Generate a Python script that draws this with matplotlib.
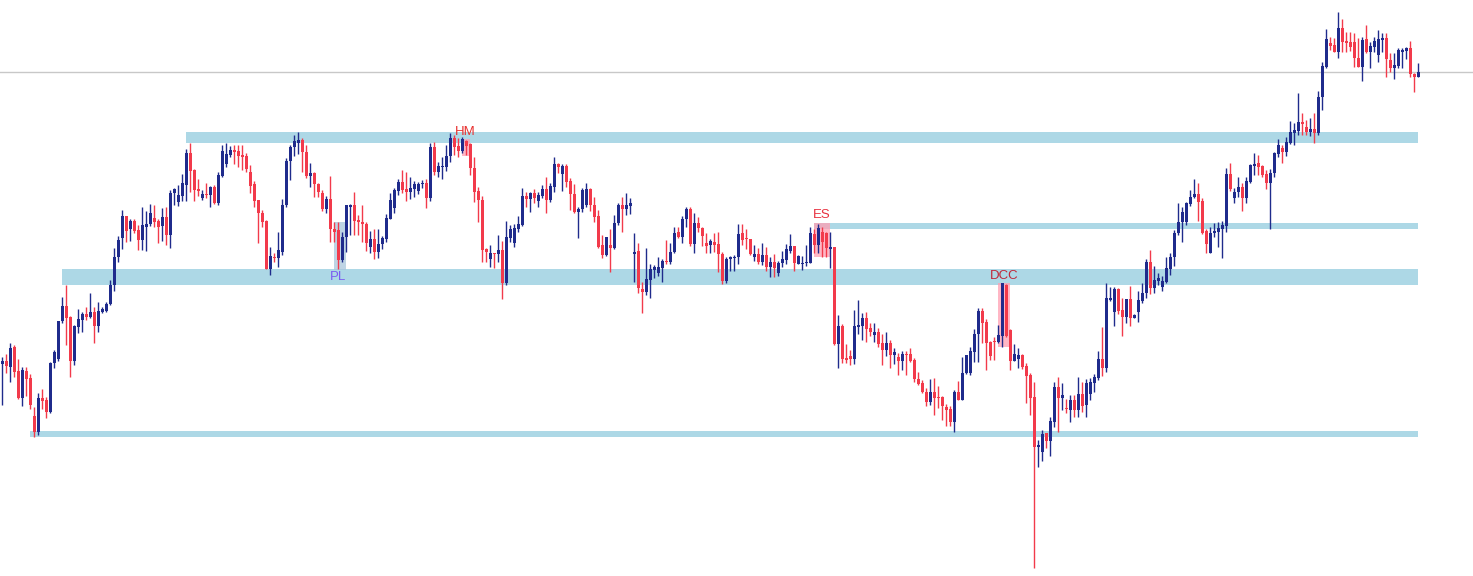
import matplotlib

matplotlib.use("Agg")
import matplotlib.pyplot as plt
from matplotlib.patches import Rectangle

# Price levels read off the chart as screen rows (bigger number = lower price),
# so the y axis is flipped below. One entry per candle.
opens = [
    364, 361, 366.7, 347, 370.7, 397.7, 370.7, 378, 416, 431.7,
    398, 400, 412, 363.3, 359, 321.3, 306, 316.7, 360.7, 326.7,
    320, 314, 316.7, 311.7, 325.7, 311.7, 311, 304, 285, 257.3,
    238.3, 216, 229.3, 220.7, 230, 240, 226.7, 224, 218.3, 220.7,
    225.7, 217.3, 235, 193.3, 201.7, 195.7, 185, 153.3, 170, 189.3,
    198, 194, 195.3, 187, 202.7, 175.7, 164.3, 155, 150, 151,
    155, 156, 171.7, 184.3, 199.7, 212.7, 221, 269, 256.7, 257.7,
    251.7, 205, 161, 146.7, 143.3, 140, 151.7, 175.7, 173.3, 184.3,
    193.3, 209.3, 199.3, 229, 230, 260, 236.7, 206.7, 205, 220,
    222, 224.3, 246.7, 239, 251.7, 244, 239, 218.7, 208.3, 190.7,
    182.3, 189.3, 191.7, 189, 190.7, 184.3, 183.3, 197.7, 147.3, 171.7,
    167.3, 166.7, 156, 138.3, 146, 150.7, 140.7, 144, 168.3, 191,
    200, 249, 259.3, 253.3, 254.3, 250, 282.7, 238.3, 242.7, 229,
    225, 196, 199.3, 192.7, 200.7, 195.7, 189, 200, 186.7, 164,
    174.3, 166, 181, 194, 211.7, 209.3, 205, 189, 205, 216,
    245, 255, 245, 247.7, 223.3, 205, 209.3, 205.7, 254.3, 251,
    289, 291.7, 280, 270, 272.7, 267.7, 261, 261.7, 252.3, 232.3,
    237.3, 219.3, 209, 244, 223.3, 228.3, 242.7, 245, 241.7, 244,
    254.3, 281, 259.3, 257.7, 257.3, 232.7, 238.3, 239, 256.7, 254.3,
    262.3, 255, 266.7, 261.7, 273.3, 263.3, 260, 251, 246, 264,
    264.3, 263.3, 262.7, 234, 245, 232.3, 233.3, 249, 247.3, 344.3,
    326, 357.7, 356, 359, 326.7, 325.7, 317.7, 327.7, 335, 331.7,
    342.7, 350, 342.7, 355, 356.7, 360.7, 354, 354, 360, 379,
    383.3, 391.7, 401.7, 392.3, 396.7, 397.3, 406.7, 409, 421.7, 392.3,
    400, 373.3, 373.3, 351.7, 334, 310.7, 321.7, 341.7, 341, 341.7,
    335.7, 285, 330, 360.7, 359.3, 355, 366, 375, 396.7, 446.7,
    451.7, 433.3, 441, 421.7, 386.7, 398.3, 408.3, 410, 400, 410,
    394.3, 405, 394.3, 382.7, 378.3, 359.3, 367.7, 300, 312.3, 289.3,
    310, 316.7, 299.3, 317.7, 311.7, 300.7, 293.3, 262.3, 288.3, 280.7,
    287.3, 281.7, 269.3, 257.3, 233.3, 222.3, 222.3, 204, 197.3, 194,
    201, 231, 252.7, 233.3, 232.3, 229, 225.7, 174, 197.7, 192.3,
    186.7, 197.7, 181.7, 165.7, 163.3, 166, 174, 183.3, 172.7, 154,
    147.7, 151.7, 142.7, 132.7, 130.7, 121.7, 126.7, 131.7, 129, 133.3,
    96.7, 66.7, 43.3, 45, 51.7, 28.3, 41, 42.3, 42.3, 57.7,
    66.7, 39, 52.3, 46.7, 55, 39.7, 37.7, 60, 67.7, 66,
    52.3, 50.7, 48.3, 74, 76.7,
]
closes = [
    360.7, 365.7, 348.3, 372.3, 397.7, 370, 379, 404.7, 431.7, 398,
    400.7, 412, 362.7, 351.7, 321, 306, 317.7, 360.7, 326, 319.3,
    314, 316.7, 312, 325.7, 311, 309, 304, 285, 257.3, 240,
    216, 230.7, 221, 230.7, 240, 225, 224, 213, 221.7, 226.7,
    217.3, 235, 193.3, 189.3, 195, 183.3, 153.3, 170.7, 190, 191,
    194, 195.3, 187, 202.7, 175, 151, 154, 150, 151.7, 155.7,
    156.7, 169.3, 186, 201, 213.3, 222.3, 269, 256, 257.7, 250,
    205, 161, 146.7, 141, 140, 151.7, 175.7, 173.3, 184.3, 191.7,
    209.3, 199.3, 229, 231.7, 260, 236.7, 205, 205, 220.7, 221.7,
    224.3, 243.3, 239, 251.7, 244, 238.3, 218, 200, 190, 182.3,
    190, 191.7, 188.3, 184.3, 184.3, 183, 197.7, 147.3, 171.7, 166,
    166, 156, 138.3, 146.7, 150.7, 139.3, 145.7, 168.3, 191.7, 200,
    250, 252.3, 253.3, 254.3, 250, 282.7, 237.3, 229, 228.3, 224,
    196, 199.3, 192.7, 197.7, 195, 189, 200, 186, 164, 166.7,
    166, 181.7, 194.3, 211.7, 209, 190, 189, 205, 216.7, 246.7,
    255, 236.7, 247.7, 222.7, 205, 209.3, 205, 203.3, 251.7, 288.3,
    292.3, 279.3, 269, 266.7, 267.3, 261, 262.3, 251.7, 232.7, 236.7,
    219, 209, 244, 222.7, 228.3, 236, 246, 241, 245, 254.3,
    281, 259, 257.3, 256.7, 234, 240, 239.3, 254.3, 254, 262.3,
    255, 266.7, 261.7, 267.7, 262.7, 259, 249, 246, 263.3, 256,
    262.7, 261.7, 232.7, 245, 228.3, 241.7, 248.3, 246.7, 344.3, 326,
    359, 360, 359, 326, 325, 317.7, 329, 332.3, 331.7, 344,
    350, 342.7, 355, 351.7, 360.7, 354, 355, 361, 379, 384,
    391.7, 401.7, 392.3, 397.7, 397.3, 406, 410, 421.7, 392.3, 400,
    373.3, 355, 351, 334, 310.7, 322.7, 342.7, 355.7, 341.7, 335,
    283.3, 335.7, 360.7, 354.3, 355, 366.7, 375.7, 397.7, 446.7, 445,
    434, 441, 421, 386.7, 398.3, 395, 409.3, 400, 410, 394.3,
    405.5, 383.3, 382.3, 377.3, 359.3, 367.7, 298.3, 298.3, 289.3, 310.7,
    316.7, 299.3, 317.7, 315, 300, 292.7, 262.3, 288.3, 280, 277.7,
    281, 268.3, 257.3, 232.7, 221.7, 211.7, 203.3, 197.3, 194, 202.3,
    232.7, 244, 233.3, 231, 228.3, 225, 174, 189, 191.7, 186.7,
    197.7, 180.7, 165, 164, 166.7, 175, 183.3, 172.7, 153.3, 145,
    151.7, 141.7, 132.3, 130, 121.7, 124, 131.7, 129, 133.3, 96.7,
    66, 39, 45.7, 51.7, 28.3, 41.7, 42.7, 46.7, 58.3, 66.7,
    40, 51.7, 45.7, 41, 39, 37.7, 59.3, 67.7, 65, 50,
    50, 48.3, 74.3, 76.7, 71.7,
]
highs = [
    356.7, 354, 343.3, 345, 359, 366.7, 367.3, 374.3, 406.7, 393.3,
    389.3, 396.7, 361.7, 350, 321, 296.7, 285, 315.7, 325, 309.3,
    311.7, 306.7, 293.3, 306.7, 301.7, 306.7, 302.3, 280, 248, 236,
    210, 216, 219.3, 219.3, 225, 207.3, 211, 204, 205, 219.3,
    208.3, 207.3, 190, 188.3, 185, 174, 149, 142.7, 169.3, 179.3,
    190, 183.3, 185.7, 185, 171.7, 145, 142.7, 146, 145, 145,
    145, 153.3, 165, 181, 199.7, 210, 220, 246.7, 252.7, 232.3,
    199, 158.3, 145, 135, 131.7, 137.7, 145, 163.3, 171.7, 183.3,
    190, 196, 176, 221.7, 221.7, 232.3, 205, 204.3, 191.7, 215,
    205, 222.3, 231, 229, 229, 236, 214.3, 193.3, 188.3, 179.3,
    170, 172.3, 177.3, 181, 181.7, 180, 179.3, 143.3, 142.3, 162.3,
    156.7, 145, 132.7, 135, 138.3, 136.7, 140, 143.3, 157.3, 186.7,
    196, 248.3, 245, 252.7, 235, 240.7, 221, 225, 224, 216,
    188.3, 191.7, 191.7, 189.3, 191.7, 185, 176.7, 183.3, 157.3, 162.7,
    164, 164, 177.7, 184.3, 207.3, 187.7, 183.3, 188.3, 196.7, 210,
    235, 236.7, 229.3, 215, 203.3, 196.7, 192.7, 198.3, 232.7, 243.3,
    281.7, 248.3, 264, 265, 256.7, 259.3, 240, 243.3, 226.7, 226.7,
    216, 207.3, 207.3, 213.3, 216.7, 227.3, 232.7, 239.3, 232.7, 231.7,
    251.7, 257.3, 255.7, 255, 224, 224.3, 229.3, 239, 245, 247.7,
    242.7, 246.7, 256.7, 254.3, 261, 251, 244.3, 234, 245.7, 255,
    256, 245, 227.3, 229, 224.3, 227.3, 231.7, 231.7, 246.7, 315,
    324.3, 344, 350, 310, 300, 312.7, 311.7, 322.7, 322.7, 328.3,
    334, 331.7, 340, 348.3, 353.3, 351, 351, 348.3, 357.7, 371.7,
    380, 388.3, 379.3, 378.3, 386, 396, 404, 406, 390, 381,
    357.3, 355, 347.3, 329.3, 308.3, 307.7, 319.3, 340.7, 336.7, 325,
    282.7, 284, 329.3, 344, 348.3, 354.3, 363.3, 373.3, 381.7, 440,
    430, 432.7, 416.7, 381.7, 377.3, 383.3, 399.3, 395, 395, 377.3,
    381.7, 379.3, 378.3, 374, 351, 326.7, 283.3, 286.7, 286.7, 288.3,
    297.7, 299.3, 286, 314, 290.7, 283.3, 259.3, 250, 266, 273.3,
    276, 257.3, 253.3, 230, 203.3, 206.7, 201.7, 190, 179.3, 183.3,
    198, 229.3, 227.3, 223.3, 221.7, 220.7, 167.7, 162.7, 188.3, 176.7,
    183.3, 176.7, 164, 153.3, 155, 165, 170, 169.3, 151.7, 139.3,
    145, 137.3, 121, 123.3, 93.3, 112.7, 120, 118.3, 113.3, 90.7,
    61.7, 29, 36.7, 38.3, 11.7, 19, 31.7, 31.7, 33.3, 38.3,
    36.7, 25, 42.3, 36.7, 30, 33.3, 33.3, 53.3, 52.7, 48.3,
    48.3, 47.3, 41, 73.3, 63.3,
]
lows = [
    405, 372.7, 381.7, 377.3, 399, 405.7, 395.7, 409.3, 436.7, 435,
    409.3, 417.7, 412.7, 368.3, 361, 322.7, 345, 376.7, 365, 333.3,
    331.7, 320, 318.3, 343.3, 332.3, 313.3, 312.3, 305, 290.7, 262,
    249.3, 241.7, 240.7, 233.3, 250, 250, 250.7, 226, 226.7, 242.7,
    240.7, 245, 248.3, 205, 206, 200.7, 200.7, 191.7, 201, 195.7,
    200, 198.3, 206.7, 204, 205, 176.7, 166.7, 156.7, 164.3, 167.3,
    170, 171.7, 193.3, 206.7, 243.3, 226.7, 269, 275, 261.7, 266.7,
    255, 206.7, 180, 155.7, 154.3, 171.7, 178.3, 186.7, 196.7, 196.7,
    210.7, 213.3, 242.3, 241.7, 269.3, 261.7, 251.7, 235, 235, 235,
    242, 250.7, 253.3, 259.3, 258.3, 249.3, 241.7, 219, 213.3, 195,
    192.7, 201, 199.3, 196.7, 194, 188.3, 207.7, 200.7, 175, 176.7,
    179.3, 170.7, 161.7, 155, 157.3, 153.3, 155, 175, 201.7, 221.7,
    261.7, 262.3, 267.3, 268.3, 261.7, 299.3, 285, 241.7, 246.7, 231.7,
    226, 206.7, 211.7, 203.3, 207.3, 198.3, 212.7, 202.3, 191.7, 173.3,
    190.7, 187.3, 210, 213.3, 237.7, 211.7, 207.3, 211, 222.3, 248.3,
    258.3, 255.7, 271.7, 249.3, 225, 231.7, 215, 214, 281.7, 292.7,
    312.7, 295, 298.3, 278.3, 276, 281.7, 264, 264, 253.3, 238.3,
    243.3, 226.7, 246, 252.7, 231.7, 246, 252.7, 252.7, 251.7, 271.7,
    284.3, 282.7, 270.7, 270.7, 264.3, 245, 249, 255, 261, 264.3,
    265, 271, 276.7, 276.7, 276, 266.7, 264, 253.3, 271, 264.3,
    270, 266, 263.3, 253.3, 252.7, 256.7, 256.7, 267.7, 345, 368.3,
    363.3, 363.3, 365, 364, 334, 340, 342.3, 335.7, 342.3, 346.7,
    365, 356, 367.7, 364, 375, 370, 375, 361.7, 381.7, 385,
    393.3, 406, 405, 415, 408.3, 420, 425.7, 425.7, 431.7, 400,
    400, 374, 375, 361.7, 361.7, 342.7, 370, 360, 360, 343.3,
    347.3, 336.7, 370, 360.7, 368.3, 369, 403.3, 415, 568.3, 466.7,
    460.7, 448.3, 456, 426.7, 431.7, 410, 413.3, 421.7, 416.7, 416.7,
    412, 416.7, 400, 391.7, 380, 375.7, 371.7, 301, 325.7, 314,
    335.7, 322.7, 325.7, 318.3, 321.7, 302.7, 297.7, 294, 293.3, 285,
    290.7, 283.3, 275, 265.7, 235, 241.7, 225, 205.7, 198.3, 220.7,
    234, 252.7, 252.7, 237.3, 246.7, 258.3, 232.3, 190.7, 202.7, 196.7,
    210.7, 202.7, 183.3, 175, 175, 177.3, 189, 229.3, 176.7, 157.3,
    163.3, 156, 144, 145, 135, 135, 135, 136, 142.7, 135,
    110, 68.3, 50, 52.3, 57.7, 51.7, 51.7, 50.7, 66.7, 66.7,
    80.7, 53.3, 68.3, 51.7, 62.3, 51.7, 76.7, 71.7, 79, 68.3,
    68.3, 59.3, 76.7, 91.7, 76.7,
]

# support / resistance zones: first candle (float index), top and bottom level
zone_from = [45.9, 14.9, 203.0, 6.9]
zone_top = [132, 269, 222.5, 431]
zone_bottom = [143, 285, 229, 436.5]
zone_to = 353.9

# pattern marks
pattern_names = ["PL", "HM", "ES", "DCC"]
pattern_from = [82.9, 114.8, 202.9, 248.8]
pattern_to = [85.9, 116.9, 206.9, 251.9]
pattern_top = [222, 139, 222.5, 283.3]
pattern_bottom = [270, 156, 256.7, 346.7]

ref_level = 72.3

BLUE = "#1f2b8c"
RED = "#f23a4b"
ZONE = "#add8e6"

fig = plt.figure(figsize=(14.73, 5.76), dpi=100)
ax = fig.add_axes([0, 0, 1, 1])
ax.set_xlim(-0.575, 367.675)
ax.set_ylim(576, 0)
ax.axis("off")

ax.axhline(ref_level, color="#c8c8c8", linewidth=1.0, zorder=0)

for x0, top, bot in zip(zone_from, zone_top, zone_bottom):
    ax.add_patch(Rectangle((x0, top), zone_to - x0, bot - top,
                           facecolor=ZONE, edgecolor="none", zorder=1))

box_colors = ["#a9c6dc", "#ff9fb2", "#ff9fb2", "#ff9fb2"]
text_colors = ["#7a5cf0", "#e8302f", "#e8303f", "#c0283a"]
for name, x0, x1, top, bot, fc, tc in zip(pattern_names, pattern_from, pattern_to,
                                          pattern_top, pattern_bottom,
                                          box_colors, text_colors):
    ax.add_patch(Rectangle((x0, top), x1 - x0, bot - top, facecolor=fc,
                           edgecolor="none", alpha=0.75, zorder=2))
    xc = (x0 + x1) / 2
    if name == "PL":
        ax.text(xc - 0.4, bot + 1.0, name, color=tc, fontsize=9.5, ha="center",
                va="top", family="Liberation Sans", zorder=6)
    else:
        ax.text(xc, top - 1.0, name, color=tc, fontsize=9.5, ha="center",
                va="bottom", family="Liberation Sans", zorder=6)

xs = list(range(len(opens)))
colors = [BLUE if c < o else RED for o, c in zip(opens, closes)]
body_lo = [min(o, c) for o, c in zip(opens, closes)]
body_h = [max(abs(c - o), 1.0) for o, c in zip(opens, closes)]

ax.vlines(xs, highs, lows, colors=colors, linewidth=1.0, zorder=3)
ax.bar(xs, body_h, bottom=body_lo, width=0.8, color=colors, linewidth=0, zorder=4)

fig.savefig("out.png", dpi=100)
plt.close(fig)
